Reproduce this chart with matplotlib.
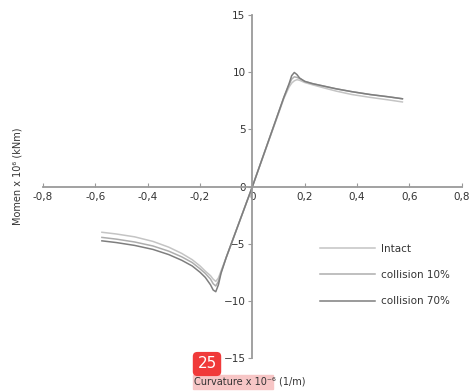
import numpy as np
import matplotlib.pyplot as plt
from matplotlib.patches import Rectangle

# curvature (x 10^-6 1/m) and moment (x 10^6 kNm)
x_pos = [0, 0.05, 0.10, 0.12, 0.14, 0.15, 0.16, 0.17, 0.18, 0.20, 0.23, 0.27, 0.32, 0.38, 0.45, 0.52, 0.573]
intact_pos = [0, 3.2, 6.4, 7.7, 8.7, 9.05, 9.25, 9.35, 9.3, 9.1, 8.9, 8.65, 8.35, 8.05, 7.8, 7.58, 7.4]
c10_pos = [0, 3.25, 6.5, 7.8, 8.9, 9.4, 9.6, 9.55, 9.45, 9.2, 9.0, 8.8, 8.55, 8.3, 8.05, 7.85, 7.68]
c70_pos = [0, 3.25, 6.5, 7.8, 9.0, 9.7, 9.98, 9.8, 9.5, 9.2, 9.0, 8.8, 8.55, 8.3, 8.05, 7.85, 7.68]

x_neg = [0, -0.05, -0.10, -0.12, -0.13, -0.14, -0.15, -0.16, -0.18, -0.20, -0.23, -0.27, -0.32, -0.38, -0.45, -0.52, -0.575]
intact_neg = [0, -3.1, -6.2, -7.4, -8.0, -8.3, -8.1, -7.8, -7.4, -6.95, -6.4, -5.85, -5.3, -4.8, -4.4, -4.15, -4.0]
c10_neg = [0, -3.1, -6.2, -7.5, -8.3, -8.7, -8.5, -8.1, -7.6, -7.2, -6.65, -6.15, -5.65, -5.2, -4.85, -4.6, -4.45]
c70_neg = [0, -3.1, -6.2, -7.6, -8.6, -9.2, -9.05, -8.6, -7.95, -7.5, -6.95, -6.45, -5.95, -5.5, -5.15, -4.9, -4.75]

labels = ["Intact", "collision 10%", "collision 70%"]
colors = ["#c4c4c4", "#adadad", "#7e7e7e"]

fig = plt.figure(figsize=(4.69, 3.91), dpi=100)
ax = fig.add_axes([0.0917, 0.0844, 0.893, 0.877])

pos = [intact_pos, c10_pos, c70_pos]
neg = [intact_neg, c10_neg, c70_neg]
for i in range(3):
    xs = list(reversed(x_neg)) + x_pos[1:]
    ys = list(reversed(neg[i])) + pos[i][1:]
    ax.plot(xs, ys, color=colors[i], lw=1.1, label=labels[i])

ax.set_xlim(-0.8, 0.8)
ax.set_ylim(-15, 15)
ax.set_xticks(np.arange(-0.8, 0.81, 0.2))
ax.set_xticklabels(["-0,8", "-0,6", "-0,4", "-0,2", "0", "0,2", "0,4", "0,6", "0,8"])
ax.set_yticks([-15, -10, -5, 0, 5, 10, 15])

ax.spines["left"].set_position(("data", 0))
ax.spines["bottom"].set_position(("data", 0))
ax.spines["top"].set_visible(False)
ax.spines["right"].set_visible(False)
for s in ["left", "bottom"]:
    ax.spines[s].set_color("#9a9a9a")
    ax.spines[s].set_linewidth(1.3)
ax.tick_params(axis="x", direction="in", length=3, color="#9a9a9a", labelsize=7.5,
               labelcolor="#333333", pad=4)
ax.tick_params(axis="y", direction="out", length=3, color="#9a9a9a", labelsize=7.5,
               labelcolor="#333333", pad=2)
ax.patch.set_visible(False)

leg = ax.legend(loc="upper left", bbox_to_anchor=(0.64, 0.36), frameon=False,
                handlelength=5.2, labelspacing=1.55, fontsize=7.5, handletextpad=0.6)
for t in leg.get_texts():
    t.set_color("#333333")

fig.text(0.038, 0.55, "Momen x 10\u2076 (kNm)", rotation=90, ha="center", va="center",
         fontsize=7, color="#333333")

# highlight and page badge seen in the reference
fig.patches.append(Rectangle((193 / 469, 1 - 389 / 391), 80 / 469, 14 / 391,
                             transform=fig.transFigure, color="#f7c6c6", zorder=0))
fig.text(0.413, 1 - 382 / 391, "Curvature x 10\u207b\u2076 (1/m)", ha="left", va="center",
         fontsize=7, color="#333333")
fig.text(207 / 469, 1 - 364 / 391, "25", ha="center", va="center", fontsize=11, color="white",
         bbox=dict(boxstyle="round,pad=0.3,rounding_size=0.3", fc="#f03a3a", ec="none"))

plt.savefig("out.png", dpi=100)
